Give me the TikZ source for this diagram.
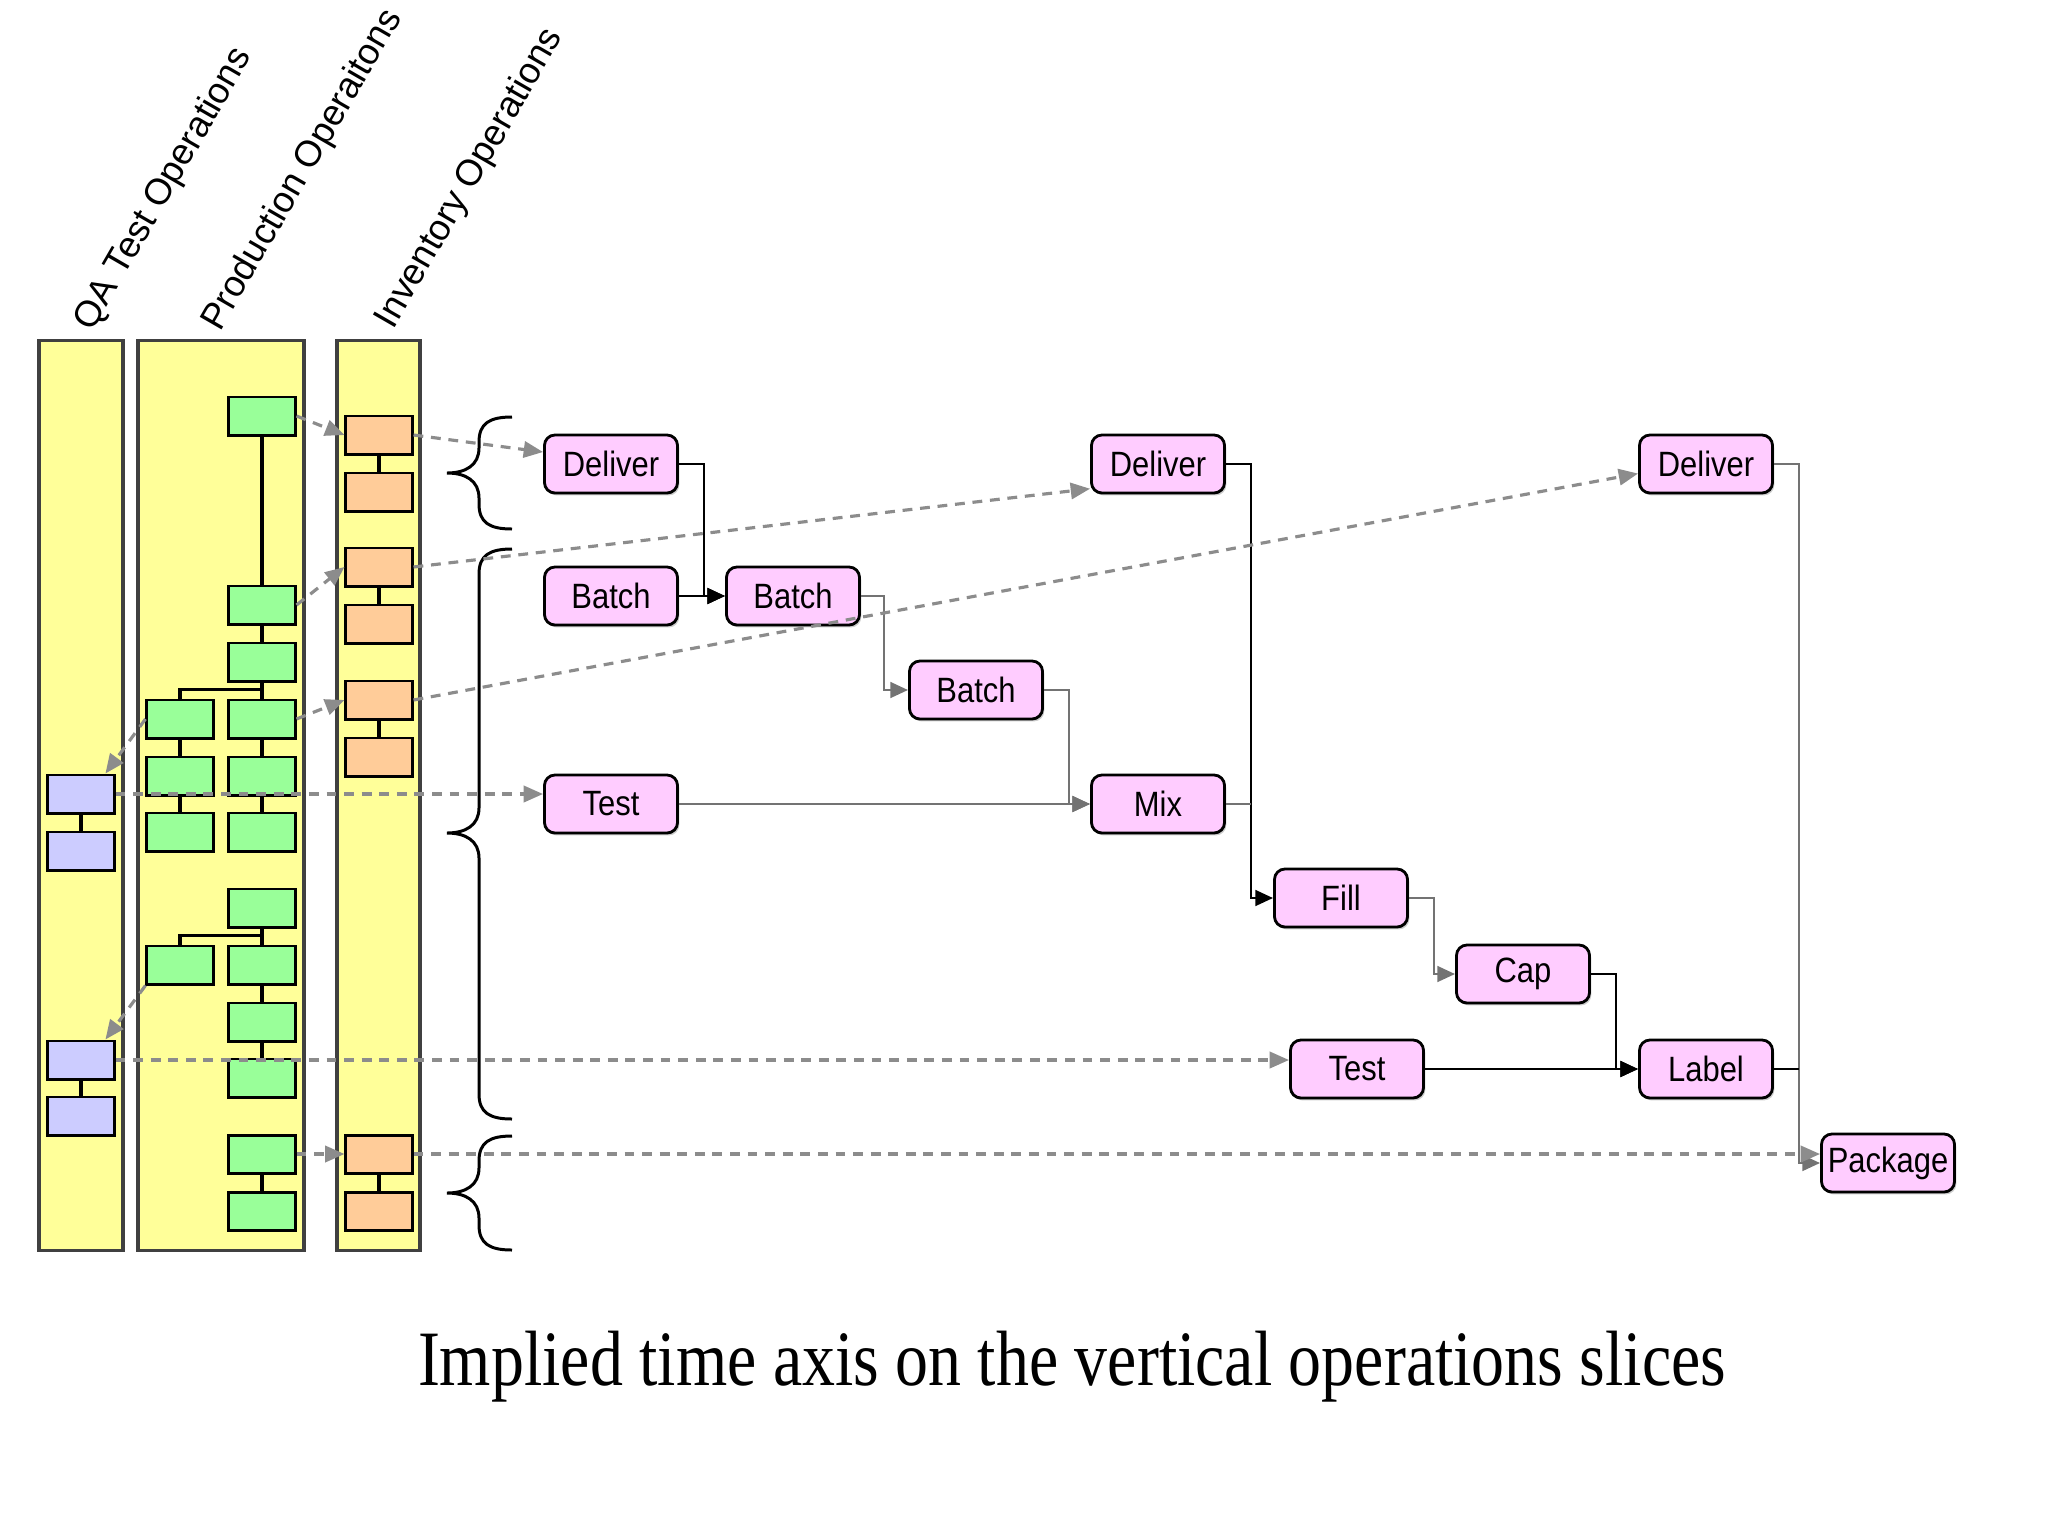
\documentclass[tikz,border=0pt]{standalone}
\usepackage{fontspec}
\newfontfamily\opfont[FakeStretch=0.88]{Liberation Sans}
\newfontfamily\slicefont{Liberation Sans}
\newfontfamily\captionfont[FakeStretch=0.84]{Liberation Serif}
\usetikzlibrary{arrows.meta,shadows}
\definecolor{sliceyellow}{HTML}{FFFF99}
\definecolor{prodgreen}{HTML}{99FF99}
\definecolor{invorange}{HTML}{FFCC99}
\definecolor{qablue}{HTML}{CCCCFF}
\definecolor{oppink}{HTML}{FFCCFF}
\definecolor{dashgray}{HTML}{8C8C8C}
\tikzset{
  slicecol/.style={draw=black!75, line width=0.9pt, fill=sliceyellow, inner sep=0},
  slotbox/.style={draw=black, line width=0.85pt, minimum width=0.66cm, minimum height=0.38cm, inner sep=0},
  prodbox/.style={slotbox, fill=prodgreen},
  invbox/.style={slotbox, fill=invorange},
  qabox/.style={slotbox, fill=qablue},
  opbox/.style={draw=black, line width=0.8pt, fill=oppink, rounded corners=3pt, minimum width=1.33cm, minimum height=0.58cm, inner sep=0, font=\opfont\fontsize{10}{12}\selectfont, drop shadow={shadow xshift=0.5pt, shadow yshift=-0.7pt, fill=black!40}},
  link/.style={line width=0.9pt},
  flow/.style={line width=0.8pt, -{Triangle[length=5pt,width=4.4pt]}},
  flowgray/.style={flow, draw=black!55},
  handoff/.style={draw=dashgray, line width=0.9pt, dash pattern=on 2.8pt off 2.2pt, -{Triangle[length=5.5pt,width=4.6pt]}},
  slicelabel/.style={rotate=60, anchor=base west, inner sep=0, font=\slicefont\fontsize{10.4}{12}\selectfont},
  opbrace/.style={line width=0.85pt}
}

\begin{document}
\begin{tikzpicture}[x=0.01cm, y=-0.01cm]
\useasboundingbox (0,0) rectangle (2048,1536);

% the three operations slices
\node[slicecol, minimum width=0.84cm, minimum height=9.09cm] (qa) at (81,795.5) {};
\node[slicecol, minimum width=1.66cm, minimum height=9.09cm] (prod) at (221,795.5) {};
\node[slicecol, minimum width=0.83cm, minimum height=9.09cm] (inv) at (378.5,795.5) {};

\node[slicelabel] (qalabel) at (92,333) {QA Test Operations};
\node[slicelabel] (prodlabel) at (220,333) {Production Operaitons};
\node[slicelabel] (invlabel) at (393,331) {Inventory Operations};

% boxes in each slice
\foreach \i/\y in {1/416,2/605,3/662,4/719,5/776,6/832,7/908,8/965,9/1022,10/1078,11/1154,12/1211}
  \node[prodbox] (pr\i) at (262,\y) {};
\foreach \i/\y in {4/719,5/776,6/832,8/965}
  \node[prodbox] (pl\i) at (180,\y) {};
\foreach \i/\y in {1/435,2/492,3/567,4/624,5/700,6/757,7/1154,8/1211}
  \node[invbox] (o\i) at (379,\y) {};
\foreach \i/\y in {1/794,2/851,3/1060,4/1116}
  \node[qabox] (q\i) at (81,\y) {};

\foreach \a/\b in {pr1/pr2,pr2/pr3,pr3/pr4,pr4/pr5,pr5/pr6,pl4/pl5,pl5/pl6,pr7/pr8,pr8/pr9,pr9/pr10,pr11/pr12,o1/o2,o3/o4,o5/o6,o7/o8,q1/q2,q3/q4}
  \draw[link] (\a) -- (\b);
\draw[link] (pr4.north) ++(0,-9) -| (pl4.north);
\draw[link] (pr8.north) ++(0,-9) -| (pl8.north);

% braces
\foreach \t/\m/\b in {417/473/529,549/833/1119,1136/1193/1250}
  \draw[opbrace] (512,\t) .. controls (490,\t) and (479,\t+6) .. (479,\t+25)
    -- (479,\m-25) .. controls (479,\m-8) and (466,\m) .. (447,\m)
    .. controls (466,\m) and (479,\m+8) .. (479,\m+25)
    -- (479,\b-25) .. controls (479,\b-6) and (490,\b) .. (512,\b);

% the operations
\node[opbox] (deliver1) at (611,464) {Deliver};
\node[opbox] (batch1) at (611,596) {Batch};
\node[opbox] (batch2) at (793,596) {Batch};
\node[opbox] (batch3) at (976,690) {Batch};
\node[opbox] (test1) at (611,804) {Test};
\node[opbox] (deliver2) at (1158,464) {Deliver};
\node[opbox] (mixop) at (1158,804) {Mix};
\node[opbox] (fillop) at (1341,898) {Fill};
\node[opbox] (capop) at (1523,974) {Cap};
\node[opbox] (test2) at (1357,1069) {Test};
\node[opbox] (deliver3) at (1706,464) {Deliver};
\node[opbox] (labelop) at (1706,1069) {Label};
\node[opbox] (packop) at (1888,1163) {Package};

\draw[flow] (deliver1.east) -- ++(25,0) |- (batch2.west);
\draw[flow] (batch1) -- (batch2);
\draw[flowgray] (batch2.east) -- ++(23,0) |- (batch3.west);
\draw[flowgray] (batch3.east) -- ++(25,0) |- (mixop.west);
\draw[flowgray] (test1) -- (mixop);
\draw[flow] (deliver2.east) -- ++(25,0) |- (fillop.west);
\draw[line width=0.8pt, black!55] (mixop.east) -- ++(25,0);
\draw[flowgray] (fillop.east) -- ++(25,0) |- (capop.west);
\draw[flow] (capop.east) -- ++(25,0) |- (labelop.west);
\draw[flow] (test2) -- (labelop);
\draw[flowgray] (deliver3.east) -- ++(25,0) |- (packop.west);
\draw[line width=0.8pt] (labelop.east) -- ++(25,0);

% hand-offs between slices and operations
\draw[handoff] (pr1.east) -- (o1.west);
\draw[handoff] (o1.east) -- (deliver1.170);
\draw[handoff] (pr2.east) -- (o3.west);
\draw[handoff] (o3.east) -- (deliver2.200);
\draw[handoff] (pr4.east) -- (o5.west);
\draw[handoff] (o5.east) -- (deliver3.188);
\draw[handoff] (pr11.east) -- (o7.west);
\draw[handoff] (o7.east) -- (o7.east -| packop.west);
\draw[handoff] (pl4.west) -- (q1.40);
\draw[handoff] (pl8.south west) -- (q3.40);
\draw[handoff] (q1.east) -- (q1.east -| test1.west);
\draw[handoff] (q3.east) -- (q3.east -| test2.west);

\node[font=\captionfont\fontsize{22.3}{26}\selectfont, anchor=base, inner sep=0] (caption) at (1072,1385) {Implied time axis on the vertical operations slices};

\end{tikzpicture}
\end{document}
